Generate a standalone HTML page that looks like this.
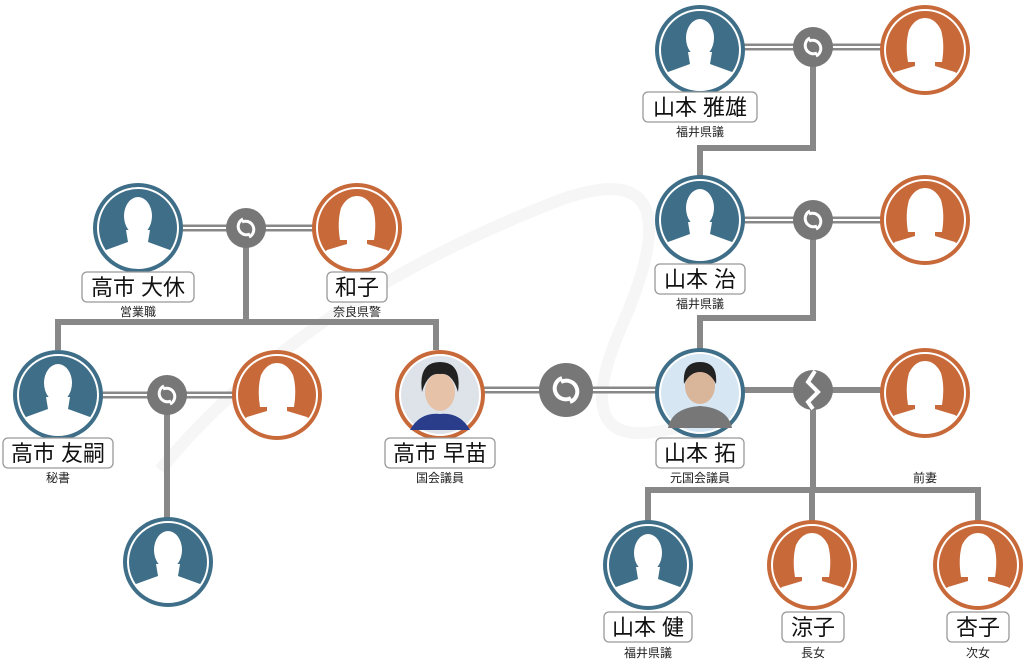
<!DOCTYPE html>
<html><head><meta charset="utf-8"><style>
body{margin:0;background:#fff}
svg{display:block}
.n{font-family:"Liberation Sans","Noto Sans CJK JP",sans-serif;font-size:22px;fill:#111;text-anchor:middle}
.s{font-family:"Liberation Sans","Noto Sans CJK JP",sans-serif;font-size:12px;fill:#222;text-anchor:middle}
.b{fill:#fff;stroke:#999;stroke-width:1.3}
.ln{stroke:#888;stroke-width:6;fill:none}
</style></head><body>
<svg width="1024" height="666" viewBox="0 0 1024 666" xmlns="http://www.w3.org/2000/svg">
<defs>
<clipPath id="cp"><circle r="40"/></clipPath>
<g id="m">
 <circle r="45" fill="#3f6f88"/>
 <circle r="40" fill="none" stroke="#fff" stroke-width="2"/>
 <g clip-path="url(#cp)" fill="#fff">
  <ellipse cx="0" cy="-12" rx="14" ry="19"/>
  <path d="M-12,2 L-10,14 L-32,22 Q-40,30 -42,45 L42,45 Q40,30 32,22 L10,14 L12,2 Z"/>
 </g>
</g>
<g id="f">
 <circle r="45" fill="#c8693a"/>
 <circle r="40" fill="none" stroke="#fff" stroke-width="2"/>
 <g clip-path="url(#cp)" fill="#fff">
  <path d="M-17,12 Q-20,-6 -16,-20 Q-10,-32 0,-32 Q10,-32 16,-20 Q20,-6 17,12 Z"/>
  <path d="M-10,8 L-10,16 L-30,22 Q-40,30 -42,45 L42,45 Q40,30 30,22 L10,16 L10,8 Z"/>
 </g>
</g>
<g id="r">
 <circle r="20" fill="#777"/>
 <path d="M-3,-9 A8,8 0 1 0 4,6" fill="none" stroke="#fff" stroke-width="3"/>
 <path d="M3,9 A8,8 0 1 0 -4,-6" fill="none" stroke="#fff" stroke-width="3"/>
</g>
<g id="R">
 <circle r="27" fill="#777"/>
 <path d="M-4,-12 A11,11 0 1 0 5,8" fill="none" stroke="#fff" stroke-width="4"/>
 <path d="M4,12 A11,11 0 1 0 -5,-8" fill="none" stroke="#fff" stroke-width="4"/>
</g>
</defs>

<!-- watermark -->
<path d="M160,470 Q300,300 560,200 Q700,150 620,330 Q560,470 700,420" fill="none" stroke="#f6f6f6" stroke-width="12"/>

<!-- marriage double lines -->
<g>
 <g stroke="#888" stroke-width="7"><line x1="180" y1="228" x2="315" y2="228"/><line x1="100" y1="395" x2="235" y2="395"/>
 <line x1="482" y1="390" x2="658" y2="390"/><line x1="742" y1="47" x2="883" y2="47"/><line x1="742" y1="220" x2="883" y2="220"/></g>
 <g stroke="#fff" stroke-width="2"><line x1="180" y1="228" x2="315" y2="228"/><line x1="100" y1="395" x2="235" y2="395"/>
 <line x1="482" y1="390" x2="658" y2="390"/><line x1="742" y1="47" x2="883" y2="47"/><line x1="742" y1="220" x2="883" y2="220"/></g>
 <line x1="742" y1="390" x2="883" y2="390" stroke="#888" stroke-width="6"/>
</g>

<!-- descent lines -->
<path class="ln" d="M246,228 V322 M58,350 V322 H436 V350"/>
<path class="ln" d="M167,395 V520"/>
<path class="ln" d="M813,47 V148 H700 V176"/>
<path class="ln" d="M813,220 V318 H700 V350"/>
<path class="ln" d="M813,390 V490 M648,522 V490 H978 V522 M812,490 V522"/>

<!-- rings -->
<use href="#r" x="246" y="228"/>
<use href="#r" x="167" y="395"/>
<use href="#R" x="566" y="390"/>
<use href="#r" x="813" y="47"/>
<use href="#r" x="813" y="220"/>
<circle cx="813" cy="390" r="20" fill="#777"/>
<path d="M815,371 L808,382 L818,392 L808,402 L813,409" fill="none" stroke="#fff" stroke-width="4"/>

<!-- people -->
<use href="#m" x="138" y="228"/><use href="#f" x="357" y="228"/>
<use href="#m" x="58" y="395"/><use href="#f" x="277" y="395"/>
<use href="#m" x="168" y="562"/>
<use href="#m" x="700" y="50"/><use href="#f" x="925" y="50"/>
<use href="#m" x="700" y="220"/><use href="#f" x="925" y="220"/>
<use href="#f" x="925" y="393"/>
<use href="#m" x="648" y="565"/><use href="#f" x="812" y="565"/><use href="#f" x="978" y="565"/>
<!-- photo nodes -->
<circle cx="440" cy="395" r="45" fill="#c8693a"/><circle cx="440" cy="395" r="40" fill="#dde3e8" stroke="#fff" stroke-width="2"/>
<ellipse cx="440" cy="392" rx="15" ry="19" fill="#e6c2a8"/><path d="M422,392 Q418,362 440,362 Q462,362 458,392 Q452,372 440,374 Q428,372 422,392Z" fill="#222"/>
<path d="M410,430 Q420,412 440,414 Q460,412 470,430 Z" fill="#2a3d8a"/>
<circle cx="700" cy="393" r="45" fill="#3f6f88"/><circle cx="700" cy="393" r="40" fill="#d6e6f2" stroke="#fff" stroke-width="2"/>
<ellipse cx="700" cy="386" rx="15" ry="18" fill="#d9b59a"/><path d="M684,384 Q682,362 700,362 Q718,362 716,384 Q710,372 700,372 Q690,372 684,384Z" fill="#222"/>
<path d="M668,428 Q672,408 700,406 Q728,408 732,428 Z" fill="#777"/>

<!-- labels -->
<rect class="b" x="82" y="272" width="112" height="30" rx="5"/><text class="n" x="138" y="295">高市 大休</text><text class="s" x="138" y="316">営業職</text>
<rect class="b" x="327" y="272" width="60" height="30" rx="5"/><text class="n" x="357" y="295">和子</text><text class="s" x="357" y="316">奈良県警</text>
<rect class="b" x="3" y="438" width="110" height="30" rx="5"/><text class="n" x="58" y="461">高市 友嗣</text><text class="s" x="58" y="482">秘書</text>
<rect class="b" x="385" y="438" width="110" height="30" rx="5"/><text class="n" x="440" y="461">高市 早苗</text><text class="s" x="440" y="482">国会議員</text>
<rect class="b" x="643" y="92" width="114" height="30" rx="5"/><text class="n" x="700" y="115">山本 雅雄</text><text class="s" x="700" y="136">福井県議</text>
<rect class="b" x="655" y="264" width="90" height="30" rx="5"/><text class="n" x="700" y="287">山本 治</text><text class="s" x="700" y="308">福井県議</text>
<rect class="b" x="656" y="438" width="88" height="30" rx="5"/><text class="n" x="700" y="461">山本 拓</text><text class="s" x="700" y="482">元国会議員</text>
<text class="s" x="925" y="482">前妻</text>
<rect class="b" x="604" y="612" width="88" height="30" rx="5"/><text class="n" x="648" y="635">山本 健</text><text class="s" x="648" y="657">福井県議</text>
<rect class="b" x="782" y="612" width="62" height="30" rx="5"/><text class="n" x="813" y="635">涼子</text><text class="s" x="813" y="657">長女</text>
<rect class="b" x="947" y="612" width="62" height="30" rx="5"/><text class="n" x="978" y="635">杏子</text><text class="s" x="978" y="657">次女</text>
</svg>
</body></html>
